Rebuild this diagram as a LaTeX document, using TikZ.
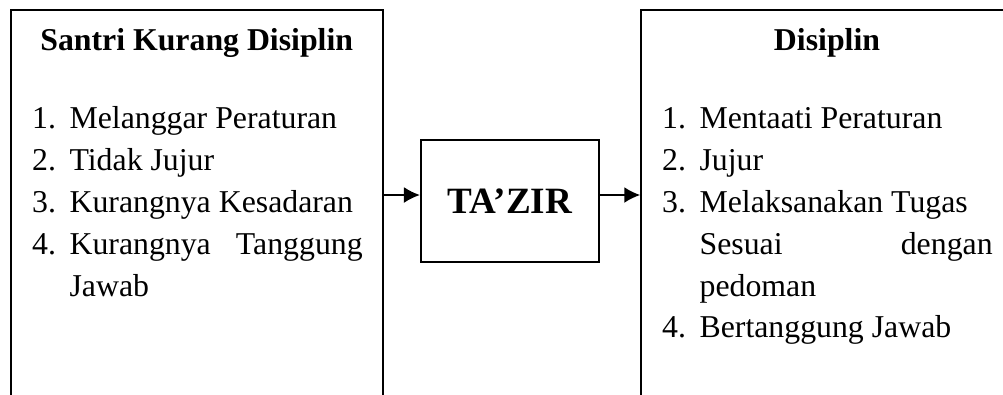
\documentclass[tikz,border=0pt]{standalone}
\usepackage{fontspec}
\setmainfont{Liberation Serif}
\usetikzlibrary{arrows.meta,fit,positioning}
\tikzstyle{frame} = [draw, rectangle, line width=0.65pt, inner sep=0pt]
\tikzstyle{punish} = [draw, rectangle, line width=0.65pt, inner sep=0pt, minimum width=67.4pt, minimum height=45.9pt, font=\fontsize{14}{17}\selectfont\bfseries]
\tikzstyle{head} = [inner sep=0pt, anchor=base, font=\fontsize{12}{15.8}\selectfont\bfseries]
\tikzstyle{items} = [inner sep=0pt, anchor=north west, yshift=11.06pt, text width=124.7pt, align=left, font=\fontsize{12}{15.8}\selectfont]
\tikzstyle{arr} = [draw, line width=0.6pt, -{Latex[length=6pt,width=6pt]}]
\newcommand{\itm}[2]{\makebox[14.1pt][l]{#1}#2}
\newcommand{\cont}[1]{\hspace*{14.1pt}#1}
\newcommand{\spread}[2]{\makebox[110.6pt][l]{#1\hfill#2}}
\newcommand{\plainspace}{\spaceskip=0pt \xspaceskip=0pt }

\begin{document}
\begin{tikzpicture}[x=0.3774pt, y=-0.3774pt]
    \clip (0,0) rectangle (1003,394);

    \node [frame, fit={(10.7,10) (382.7,430)}] (kurang) {};
    \node [punish] (tazir) at (510,200.9) {TA’ZIR};
    \node [frame, fit={(641,10) (1013,430)}] (disiplin) {};

    \node [head] (kurangtitle) at (kurang.north |- 0,50) {Santri Kurang Disiplin};
    \node [head] (disiplintitle) at (disiplin.north |- 0,50) {Disiplin};

    \node [items] (kuranglist) at (31.7,128) {\plainspace\strut\itm{1.}{Melanggar Peraturan}\\
        \itm{2.}{Tidak Jujur}\\
        \itm{3.}{Kurangnya Kesadaran}\\
        \itm{4.}{\spread{Kurangnya}{Tanggung}}\\
        \cont{Jawab}};
    \node [items] (disiplinlist) at (661.7,128) {\plainspace\strut\itm{1.}{Mentaati Peraturan}\\
        \itm{2.}{Jujur}\\
        \itm{3.}{Melaksanakan Tugas}\\
        \cont{\spread{Sesuai}{dengan}}\\
        \cont{pedoman}\\
        \itm{4.}{Bertanggung Jawab}};

    \coordinate (flow) at (0,195);
    \draw [arr] (kurang.east |- flow) -- (tazir.west |- flow);
    \draw [arr] (tazir.east |- flow) -- (disiplin.west |- flow);
\end{tikzpicture}
\end{document}
